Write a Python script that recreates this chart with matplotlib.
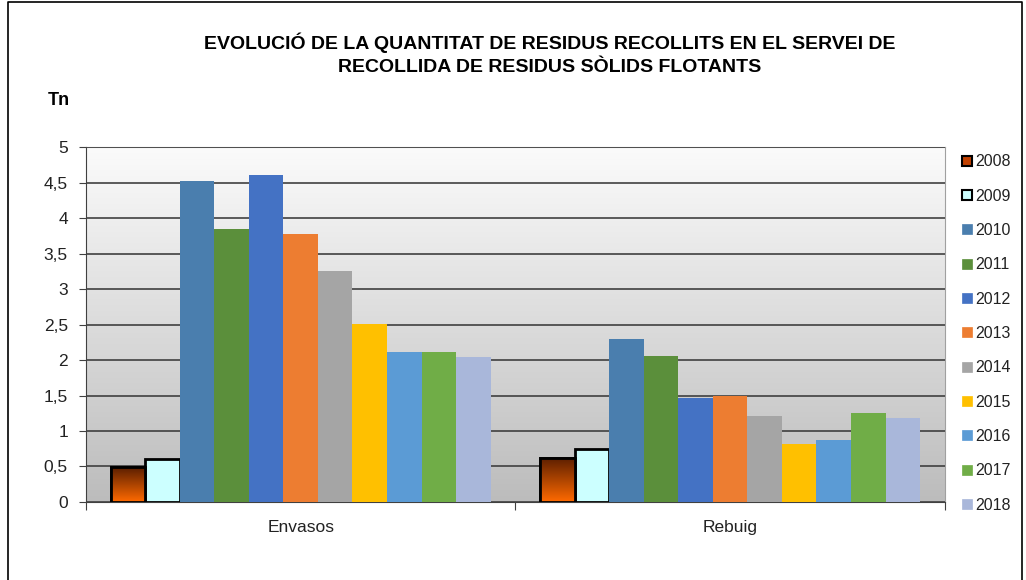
import numpy as np
import matplotlib.pyplot as plt
from matplotlib.patches import Rectangle
from matplotlib.lines import Line2D
from matplotlib.ticker import FuncFormatter

plt.rcParams['font.family'] = ['Liberation Sans', 'DejaVu Sans']

# Data
categories = ["Envasos", "Rebuig"]
years = ["2008", "2009", "2010", "2011", "2012", "2013",
         "2014", "2015", "2016", "2017", "2018"]
envasos = [0.49, 0.60, 4.52, 3.85, 4.61, 3.78, 3.25, 2.51, 2.11, 2.11, 2.04]
rebuig = [0.62, 0.74, 2.30, 2.06, 1.46, 1.49, 1.21, 0.81, 0.88, 1.26, 1.19]

colors = ["#ff6600", "#ccffff", "#4a7eae", "#5b8f3b", "#4472c4", "#ed7d31",
          "#a5a5a5", "#ffc000", "#5b9bd5", "#70ad47", "#a9b7da"]

fig = plt.figure(figsize=(10.26, 5.80), dpi=100)
ax = fig.add_axes([0.0838, 0.1345, 0.8372, 0.612])

# gradient background of the plot area
grad = np.linspace(0, 1, 256).reshape(-1, 1)
ax.imshow(grad, cmap=plt.matplotlib.colors.LinearSegmentedColormap.from_list(
    "bg", ["#bcbcbc", "#fbfbfb"]), origin="lower", aspect="auto",
    extent=[0, 2, 0, 5], zorder=0)

n = len(years)
width = 0.884 / n
x = np.arange(len(categories)) + 0.5
brown = plt.matplotlib.colors.LinearSegmentedColormap.from_list(
    "br", ["#ff6a00", "#5a1e00"])

for i, yr in enumerate(years):
    vals = [envasos[i], rebuig[i]]
    pos = x - 0.442 + width * (i + 0.5)
    if i < 2:
        bars = ax.bar(pos, vals, width, color=colors[i], edgecolor="black",
                      linewidth=2, zorder=3)
        if i == 0:
            for b in bars:
                im = ax.imshow(grad, cmap=brown, origin="lower", aspect="auto",
                               extent=[b.get_x(), b.get_x() + b.get_width(), 0, b.get_height()],
                               zorder=3.5)
                im.set_clip_path(b)
                ax.add_patch(Rectangle((b.get_x(), 0), b.get_width(), b.get_height(),
                                       fill=False, edgecolor="black", linewidth=2, zorder=4))
    else:
        ax.bar(pos, vals, width, color=colors[i], zorder=3)

ax.set_xlim(0, 2)
ax.set_ylim(0, 5)
ax.set_yticks(np.arange(0, 5.01, 0.5))
ax.yaxis.set_major_formatter(FuncFormatter(lambda v, p: f"{v:g}".replace(".", ",")))
ax.grid(axis="y", color="#404040", linewidth=1.2, zorder=1)
ax.set_axisbelow(False)
ax.set_xticks([0, 1, 2])
ax.set_xticklabels([])
ax.tick_params(axis="x", length=6, color="#404040")
ax.tick_params(axis="y", length=5, pad=8, color="#404040", labelsize=12.5,
               labelcolor="#222222")
for i, c in enumerate(categories):
    ax.text(x[i], -0.36, c, ha="center", va="center", fontsize=12.5, color="#222222")
for s in ["top", "right"]:
    ax.spines[s].set_color("#a0a0a0")
for s in ["left", "bottom"]:
    ax.spines[s].set_color("#404040")

# legend
handles = []
for i, yr in enumerate(years):
    ec = "black" if i < 2 else colors[i]
    fc = "#c04000" if i == 0 else colors[i]
    handles.append(Line2D([], [], marker="s", linestyle="none", markersize=7,
                          markerfacecolor=fc, markeredgecolor=ec,
                          markeredgewidth=1.5 if i < 2 else 0.5, label=yr))
fig.legend(handles=handles, loc="upper left", bbox_to_anchor=(0.928, 0.745),
           frameon=False, fontsize=11.5, labelspacing=1.21, handletextpad=0.05,
           handlelength=1.0, borderaxespad=0, labelcolor="#222222")

tfont = dict(ha="center", va="center", fontsize=14, fontweight="bold",
             family=['Liberation Sans Narrow', 'Liberation Sans'])
fig.text(0.536, 0.926, "EVOLUCIÓ DE LA QUANTITAT DE RESIDUS RECOLLITS EN EL SERVEI DE",
         **tfont)
fig.text(0.536, 0.883, "RECOLLIDA DE RESIDUS SÒLIDS FLOTANTS", **tfont)
fig.text(0.047, 0.827, "Tn", ha="left", va="center", fontsize=13, fontweight="bold",
         family=['Liberation Sans Narrow', 'Liberation Sans'])

# chart border (left, top, right)
fig.add_artist(Line2D([0.008, 0.008, 0.996, 0.996], [0.0, 0.996, 0.996, 0.0],
                      transform=fig.transFigure, color="black", linewidth=1.2))

fig.savefig("out.png", dpi=100)
